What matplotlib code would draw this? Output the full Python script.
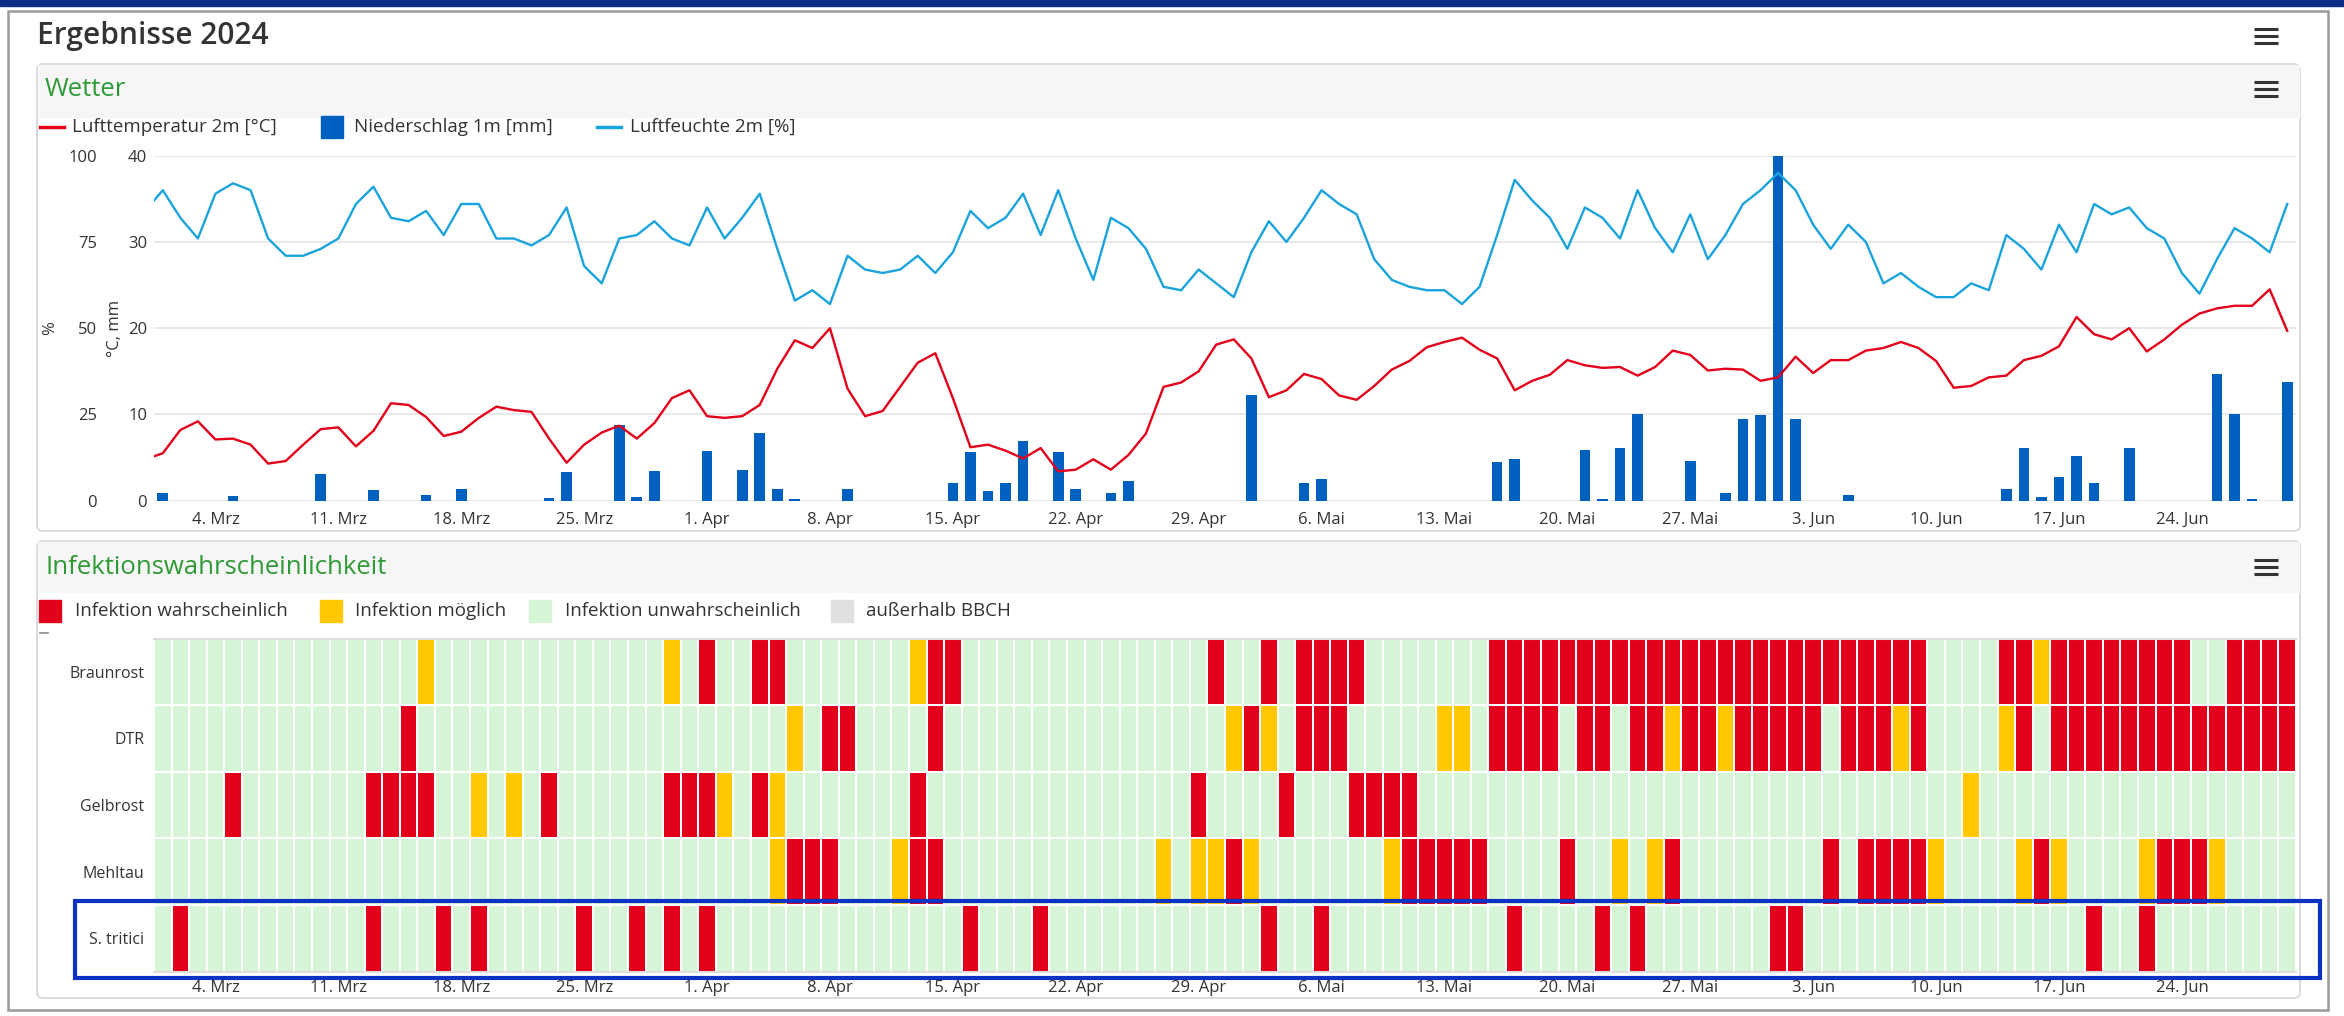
import matplotlib
matplotlib.use("Agg")
import matplotlib.pyplot as plt
import matplotlib.dates as mdates
import numpy as np
import pandas as pd
from matplotlib.colors import ListedColormap, BoundaryNorm
from matplotlib.lines import Line2D
from matplotlib.patches import FancyBboxPatch, Rectangle
from matplotlib.ticker import FuncFormatter
from matplotlib.transforms import IdentityTransform

plt.rcParams["font.family"] = ["Open Sans", "DejaVu Sans"]

# --- weather data, one value per day (29 Feb .. 30 Jun 2024) ---
temp_feb = [4.8]
temp_mar = [5.5, 8.2, 9.2, 7.1, 7.2, 6.5, 4.3, 4.6, 6.5, 8.3, 8.5, 6.3, 8.1, 11.3, 11.1, 9.7,
            7.5, 8.0, 9.6, 10.9, 10.5, 10.3, 7.2, 4.4, 6.5, 7.9, 8.7, 7.2, 9.0, 11.9, 12.8]
temp_apr = [9.8, 9.6, 9.8, 11.1, 15.3, 18.6, 17.7, 20.0, 13.0, 9.8, 10.4, 13.2, 16.0, 17.1, 11.9,
            6.2, 6.5, 5.8, 4.9, 6.1, 3.4, 3.6, 4.8, 3.6, 5.3, 7.8, 13.2, 13.7, 15.0, 18.1]
temp_may = [18.7, 16.5, 12.0, 12.8, 14.7, 14.1, 12.2, 11.7, 13.3, 15.2, 16.2, 17.8, 18.4, 18.9, 17.5,
            16.5, 12.8, 13.9, 14.6, 16.3, 15.7, 15.4, 15.5, 14.5, 15.5, 17.4, 16.9, 15.1, 15.3, 15.2, 13.9]
temp_jun = [14.3, 16.7, 14.8, 16.3, 16.3, 17.4, 17.7, 18.4, 17.7, 16.2, 13.1, 13.3, 14.3, 14.5, 16.3,
            16.8, 17.9, 21.3, 19.3, 18.7, 20.0, 17.3, 18.7, 20.4, 21.7, 22.3, 22.6, 22.6, 24.5, 19.7]

hum_feb = [84]
hum_mar = [90, 82, 76, 89, 92, 90, 76, 71, 71, 73, 76, 86, 91, 82, 81, 84,
           77, 86, 86, 76, 76, 74, 77, 85, 68, 63, 76, 77, 81, 76, 74]
hum_apr = [85, 76, 82, 89, 73, 58, 61, 57, 71, 67, 66, 67, 71, 66, 72,
           84, 79, 82, 89, 77, 90, 76, 64, 82, 79, 73, 62, 61, 67, 63]
hum_may = [59, 72, 81, 75, 82, 90, 86, 83, 70, 64, 62, 61, 61, 57, 62,
           77, 93, 87, 82, 73, 85, 82, 76, 90, 79, 72, 83, 70, 77, 86, 90]
hum_jun = [95, 90, 80, 73, 80, 75, 63, 66, 62, 59, 59, 63, 61, 77, 73,
           67, 80, 72, 86, 83, 85, 79, 76, 66, 60, 70, 79, 76, 72, 86]

rain_feb = [0]
rain_mar = [0.9, 0, 0, 0, 0.5, 0, 0, 0, 0, 3.1, 0, 0, 1.2, 0, 0, 0.7,
            0, 1.4, 0, 0, 0, 0, 0.3, 3.3, 0, 0, 8.8, 0.4, 3.4, 0, 0]
rain_apr = [5.8, 0, 3.6, 7.9, 1.3, 0.2, 0, 0, 1.4, 0, 0, 0, 0, 0, 2.0,
            5.6, 1.1, 2.0, 6.9, 0, 5.6, 1.4, 0, 0.9, 2.3, 0, 0, 0, 0, 0]
rain_may = [0, 12.3, 0, 0, 2.1, 2.5, 0, 0, 0, 0, 0, 0, 0, 0, 0,
            4.5, 4.8, 0, 0, 0, 5.9, 0.2, 6.1, 10.0, 0, 0, 4.6, 0, 0.9, 9.5, 9.9]
rain_jun = [40.0, 9.5, 0, 0, 0.7, 0, 0, 0, 0, 0, 0, 0, 0, 1.4, 6.1,
            0.4, 2.7, 5.2, 2.0, 0, 6.1, 0, 0, 0, 0, 14.7, 10.0, 0.2, 0, 13.8]

# --- infection risk, day offsets counted from 1 March ---
diseases = ["Braunrost", "DTR", "Gelbrost", "Mehltau", "S. tritici"]
likely = {
    "Braunrost": [31, 34, 35, 44, 45, 60, 63, 65, 66, 67, 68, 76, 77, 78, 79, 80, 81, 82, 83, 84,
                  85, 86, 87, 88, 89, 90, 91, 92, 93, 94, 95, 96, 97, 98, 99, 100, 105, 106, 108,
                  109, 110, 111, 112, 113, 114, 115, 118, 119, 120, 121],
    "DTR": [14, 38, 39, 44, 62, 65, 66, 67, 76, 77, 78, 79, 81, 82, 84, 85, 87, 88, 90, 91, 92, 93,
            94, 96, 97, 98, 100, 106, 108, 109, 110, 111, 112, 113, 114, 115, 116, 117, 118, 119,
            120, 121],
    "Gelbrost": [4, 12, 13, 14, 15, 22, 29, 30, 31, 34, 43, 59, 64, 68, 69, 70, 71],
    "Mehltau": [36, 37, 38, 43, 44, 61, 71, 72, 73, 74, 75, 80, 86, 95, 97, 98, 99, 100, 107,
                114, 115, 116],
    "S. tritici": [1, 12, 16, 18, 24, 27, 29, 31, 46, 50, 63, 66, 77, 82, 84, 92, 93, 110, 113],
}
possible = {
    "Braunrost": [15, 29, 43, 107],
    "DTR": [36, 61, 63, 73, 74, 86, 89, 99, 105],
    "Gelbrost": [18, 20, 32, 35, 103],
    "Mehltau": [35, 42, 57, 59, 60, 62, 70, 83, 85, 101, 106, 108, 113, 117],
    "S. tritici": [],
}
risk_labels = ["Infektion wahrscheinlich", "Infektion möglich",
               "Infektion unwahrscheinlich", "außerhalb BBCH"]
risk_colors = ["#e2001a", "#ffc800", "#d6f4d6", "#e0e0e0"]

MONTHS = {3: "Mrz", 4: "Apr", 5: "Mai", 6: "Jun"}

temp = temp_feb + temp_mar + temp_apr + temp_may + temp_jun
hum = hum_feb + hum_mar + hum_apr + hum_may + hum_jun
rain = rain_feb + rain_mar + rain_apr + rain_may + rain_jun
days = pd.date_range("2024-02-29", periods=len(temp), freq="D")
season = days[1:]

W, H = 2344, 1016
fig = plt.figure(figsize=(W / 100, H / 100), dpi=100)
PX = IdentityTransform()


def fx(x):
    return x / W


def fy(y):
    return 1 - y / H


def axes_px(left, top, right, bottom):
    return fig.add_axes([fx(left), fy(bottom), (right - left) / W, (bottom - top) / H])


def box(x0, y0, x1, y1, **kw):
    p = FancyBboxPatch((x0, H - y1), x1 - x0, y1 - y0, transform=PX, **kw)
    fig.add_artist(p)


def hline(x0, x1, y, **kw):
    fig.add_artist(Line2D([x0, x1], [H - y, H - y], transform=PX, **kw))


def rect(x0, y0, w, h, **kw):
    fig.add_artist(Rectangle((x0, H - y0 - h), w, h, transform=PX, **kw))


def burger(x, y):
    for dy in (-7, 0, 7):
        hline(x, x + 24, y + dy, color="#333333", lw=2.2, solid_capstyle="butt")


def date_label(v, pos):
    d = mdates.num2date(v)
    return f"{d.day}. {MONTHS.get(d.month, '')}"


# page frame and panels
rect(0, 0, W, 6, color="#0c2c86", zorder=-5)
box(8, 11, 2328, 1010, boxstyle="square,pad=0", fc="white", ec="#9a9a9a", lw=1.8, zorder=-4)
for top, head, bot in [(64, 117, 531), (541, 592, 998)]:
    box(37, top, 2300, bot, boxstyle="round,pad=0,rounding_size=6", fc="white",
        ec="#d8d8d8", lw=1.3, zorder=-3)
    rect(38, top + 1, 2261, head - top - 1, color="#f6f6f6", zorder=-2)

fig.text(fx(37), fy(36), "Ergebnisse 2024", fontsize=21.5, fontweight="semibold",
         color="#333333", va="center")
burger(2254, 36)
fig.text(fx(45), fy(90), "Wetter", fontsize=18.5, color="#2f9a35", va="center")
burger(2254, 89)
fig.text(fx(45), fy(568), "Infektionswahrscheinlichkeit", fontsize=18.5, color="#2f9a35", va="center")
burger(2254, 567)

# weather legend
leg_fs = 13.5
hline(40, 64, 127, color="#e2001a", lw=2.5)
fig.text(fx(72), fy(127), "Lufttemperatur 2m [°C]", fontsize=leg_fs, color="#333333", va="center")
rect(321, 116, 22, 22, color="#0060c0")
fig.text(fx(354), fy(127), "Niederschlag 1m [mm]", fontsize=leg_fs, color="#333333", va="center")
hline(597, 621, 127, color="#1aa3dc", lw=2.5)
fig.text(fx(630), fy(127), "Luftfeuchte 2m [%]", fontsize=leg_fs, color="#333333", va="center")

# weather chart
xmin = pd.Timestamp("2024-02-29 12:00")
xmax = pd.Timestamp("2024-06-30 12:00")
ax = axes_px(154, 155.7, 2296, 500.7)
ax.bar(days, rain, width=0.61, color="#0060c0", zorder=2)
ax.plot(days, temp, color="#e2001a", lw=1.7, zorder=3)
ax.set_ylim(0, 40)
ax.set_yticks([0, 10, 20, 30, 40])
ax.grid(axis="y", color="#e3e3e3", lw=1.1)
ax.set_axisbelow(True)
ax2 = ax.twinx()
ax2.plot(days, hum, color="#1aa3dc", lw=1.7, zorder=3)
ax2.set_ylim(0, 100)
ax2.set_yticks([0, 25, 50, 75, 100])
ax2.yaxis.tick_left()
for a in (ax, ax2):
    a.set_xlim(xmin, xmax)
    for s in a.spines.values():
        s.set_visible(False)
    a.set_facecolor("none")
ax.tick_params(axis="y", length=0, pad=5, labelsize=12, labelcolor="#333333")
ax2.tick_params(axis="y", length=0, pad=41, labelsize=12, labelcolor="#333333")
ax.xaxis.set_major_locator(mdates.WeekdayLocator(byweekday=mdates.MO))
ax.xaxis.set_major_formatter(FuncFormatter(date_label))
ax.tick_params(axis="x", length=0, pad=8, labelsize=12, labelcolor="#333333")
fig.text(fx(50), fy(328), "%", rotation=90, fontsize=12, color="#333333", ha="center", va="center")
fig.text(fx(115), fy(328), "°C, mm", rotation=90, fontsize=12, color="#333333",
         ha="center", va="center")

# risk legend
leg_x = [(39, 75), (320, 355), (529, 565), (831, 866)]
for (sx, tx), lab, col in zip(leg_x, risk_labels, risk_colors):
    rect(sx, 600, 22, 22, color=col)
    fig.text(fx(tx), fy(611), lab, fontsize=leg_fs, color="#333333", va="center")
hline(40, 48, 633, color="#888888", lw=1.2)

# infection heatmap
status = np.zeros((len(diseases), len(season)))
for r, name in enumerate(diseases):
    status[r, possible[name]] = 1
    status[r, likely[name]] = 2
cmap = ListedColormap([risk_colors[2], risk_colors[1], risk_colors[0]])
norm = BoundaryNorm([-0.5, 0.5, 1.5, 2.5], cmap.N)
edges = mdates.date2num(pd.date_range(xmin, periods=len(season) + 1, freq="D"))

axh = axes_px(154, 638.5, 2296, 971.5)
axh.pcolormesh(edges, np.arange(len(diseases) + 1), status, cmap=cmap, norm=norm,
               edgecolors="white", linewidth=1.2)
axh.set_ylim(len(diseases), 0)
axh.set_xlim(edges[0], edges[-1])
axh.xaxis_date()
axh.set_yticks(np.arange(len(diseases)) + 0.5)
axh.set_yticklabels(diseases)
axh.xaxis.set_major_locator(mdates.WeekdayLocator(byweekday=mdates.MO))
axh.xaxis.set_major_formatter(FuncFormatter(date_label))
axh.tick_params(axis="y", length=0, pad=7, labelsize=11.5, labelcolor="#333333")
axh.tick_params(axis="x", length=0, pad=6, labelsize=12, labelcolor="#333333")
for side in ("left", "right"):
    axh.spines[side].set_visible(False)
for side in ("top", "bottom"):
    axh.spines[side].set_color("#dddddd")
    axh.spines[side].set_linewidth(1.5)

# highlighted row
fig.add_artist(Rectangle((75, H - 978), 2245, 77, transform=PX, fill=False,
                         ec="#0a33c4", lw=3, zorder=10))

fig.savefig("out.png", dpi=100)
